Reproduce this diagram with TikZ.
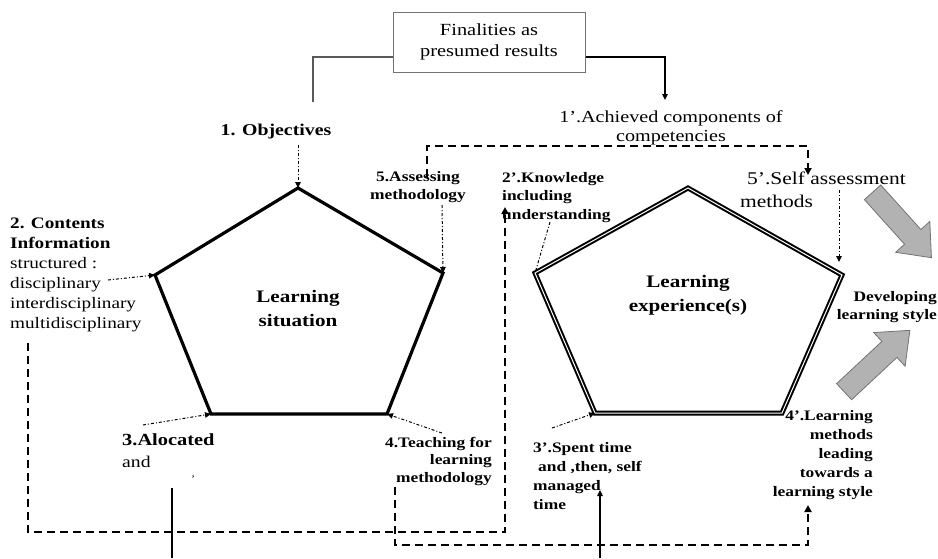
\documentclass[tikz,border=0pt]{standalone}
\usepackage{fontspec}
\setmainfont{Liberation Serif}[FakeStretch=1.2]
\usetikzlibrary{arrows.meta}
\begin{document}
\begin{tikzpicture}[x=1pt,y=-1pt,
  tri/.style={-{Triangle[length=6pt,width=5.5pt]}},
  bigtri/.style={-{Triangle[length=7pt,width=7pt]}},
  dd/.style={line width=1pt, dash pattern=on 3pt off 2pt on 1pt off 2pt},
  bigdash/.style={line width=2.4pt, dash pattern=on 8pt off 5pt},
  bl/.style={inner sep=0pt, font=\fontsize{14.5}{18.5}\selectfont\bfseries},
  nl/.style={inner sep=0pt, font=\fontsize{17}{20}\selectfont},
  title/.style={inner sep=0pt, font=\fontsize{17.6}{24}\selectfont\bfseries, align=center},
  pent/.style={line width=3.2pt, line join=miter},
  dpent/.style={line width=2pt, double=white, double distance=1pt, line join=miter},
  blockarrow/.style={fill=black!30, draw=black!55, line width=0.8pt},
]
\useasboundingbox (0,0) rectangle (938,558);

% ---- the two pentagons ----
\coordinate (LT) at (298,188);
\coordinate (LL) at (155,275);
\coordinate (LR) at (443,273);
\coordinate (LBL) at (211,414);
\coordinate (LBR) at (387,414);
\draw[pent] (LT) -- (LR) -- (LBR) -- (LBL) -- (LL) -- cycle;

\coordinate (RT) at (688,188);
\coordinate (RL) at (535,273);
\coordinate (RR) at (842,275);
\coordinate (RBL) at (595,413);
\coordinate (RBR) at (782,413);
\draw[dpent] (RT) -- (RR) -- (RBR) -- (RBL) -- (RL) -- cycle;

% ---- labels (multi-line nodes sit on the baseline of their last line) ----
\node[draw=black!55, line width=1pt, minimum width=192pt, minimum height=60pt,
      inner sep=0pt, align=center, font=\fontsize{17}{21}\selectfont]
      (fin) at (489,42) {Finalities as\\presumed results};

\node[inner sep=0pt, anchor=base, font=\fontsize{16.5}{18}\selectfont\bfseries]
      (obj) at (276,135) {1. Objectives};
\node[nl, anchor=base, align=center, font=\fontsize{16.8}{19}\selectfont]
      (ach) at (671,141) {1'.Achieved components of\\competencies};

\node[inner sep=0pt, anchor=base west, align=left, font=\fontsize{16}{20}\selectfont]
      (cont) at (10,328) {\textbf{2. Contents}\\\textbf{Information}\\structured :\\disciplinary\\interdisciplinary\\multidisciplinary};
\node[bl, anchor=base, align=center] (asm) at (418,199.5) {5.Assessing\\methodology};
\node[title, anchor=base] (lsit) at (298,326) {Learning\\situation};
\node[inner sep=0pt, anchor=base west, align=left, font=\fontsize{16.4}{22}\selectfont]
      (alo) at (122,467) {{\fontsize{17}{22}\selectfont\bfseries 3.Alocated}\\and};
\node[inner sep=0pt, font=\fontsize{10}{10}\selectfont] (tick) at (193,479) {'};
\node[bl, anchor=base east, align=right, font=\fontsize{14.5}{17.5}\selectfont\bfseries]
      (teach) at (492,482) {4.Teaching for\\learning\\methodology};

\node[bl, anchor=base west, align=left] (know) at (502,219) {2'.Knowledge\\including\\understanding};
\node[title, anchor=base] (lexp) at (688,311) {Learning\\experience(s)};
\node[inner sep=0pt, anchor=base west, align=left, font=\fontsize{17.9}{23}\selectfont]
      (self) at (747,207) {5'.Self assessment\\\hspace*{-7pt}methods};
\node[bl, anchor=base east, align=right] (dev) at (937,319.5) {Developing\\learning style};
\node[bl, anchor=base west, align=left, font=\fontsize{14.5}{19}\selectfont\bfseries]
      (spent) at (533,509) {3'.Spent time\\\hspace*{5pt}and ,then, self\\managed\\time};
\node[bl, anchor=base east, align=right, font=\fontsize{14.5}{19}\selectfont\bfseries]
      (lmeth) at (873,496) {4'.Learning\\methods\\leading\\towards a\\learning style};

% ---- connectors from the finalities box ----
\coordinate (objtop) at (313,102);
\coordinate (achtop) at (665,100);
\draw[black!65, line width=1.2pt] ([yshift=-15pt]fin.west) -| (objtop);
\draw[tri, line width=1.3pt] ([yshift=-15pt]fin.east) -| (achtop);

% ---- dash-dot pointers to the vertices ----
\draw[dd, tri, shorten <=6pt] (obj.south -| LT) -- (LT);
\coordinate (p2) at (108,280);
\draw[dd, tri] (p2) -- (LL);
\coordinate (p3) at (143,425);
\draw[dd, tri] (p3) -- (LBL);
\coordinate (p4) at (442,433);
\draw[dd, tri] (p4) -- (LBR);
\coordinate (p5) at (442,205);
\draw[dd, tri] (p5) -- (LR);

\coordinate (p5b) at (839,190);
\draw[dd, tri, shorten >=13pt] (p5b) -- (p5b |- RR);
\coordinate (p2b) at (550,222);
\draw[dd] (p2b) -- (RL);
\coordinate (p3b) at (552,428);
\draw[dd, tri] (p3b) -- (RBL);

% ---- thick dashed links ----
\coordinate (q1) at (427,177);
\coordinate (q2) at (808,175);
\draw[bigdash, bigtri] (q1) -- ++(0,-31) -| (q2);
\coordinate (k0) at (28,343);
\coordinate (k1) at (505,207);
\draw[bigdash, bigtri] (k0) -- ++(0,189) -| (k1);
\coordinate (m0) at (395,487);
\coordinate (m1) at (808,505);
\draw[bigdash, bigtri] (m0) -- ++(0,58) -| (m1);

% ---- thin solid risers ----
\coordinate (v1) at (172,558);
\coordinate (v1t) at (172,488);
\draw[line width=1.2pt] (v1) -- (v1t);
\coordinate (v2) at (600,558);
\coordinate (v2t) at (600,490);
\draw[line width=1.2pt, tri] (v2) -- (v2t);

% ---- grey block arrows towards the learning style ----
\begin{scope}[shift={(902,225)}, rotate=-48]
  \draw[blockarrow] (-44,-11) -- (16,-11) -- (16,-23) -- (44,0) -- (16,23) -- (16,11) -- (-44,11) -- cycle;
\end{scope}
\begin{scope}[shift={(877,361)}, rotate=43]
  \draw[blockarrow] (-45,-11) -- (17,-11) -- (17,-23) -- (45,0) -- (17,23) -- (17,11) -- (-45,11) -- cycle;
\end{scope}
\end{tikzpicture}
\end{document}
